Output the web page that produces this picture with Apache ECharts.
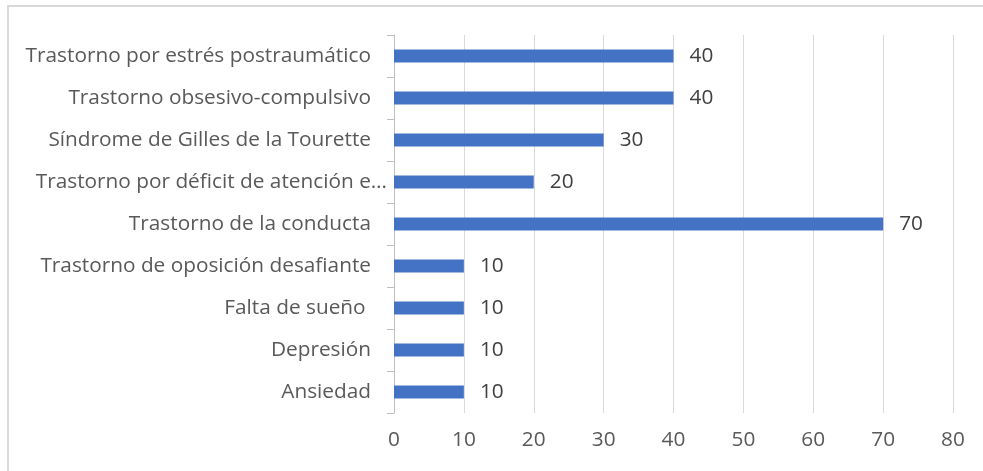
<!DOCTYPE html>
<html>
<head>
<meta charset="utf-8">
<script src="https://cdn.jsdelivr.net/npm/echarts@6/dist/echarts.min.js"></script>
<style>
html,body{margin:0;padding:0;background:#fff;}
#frame{position:absolute;left:7px;top:5px;width:1000px;height:500px;border:2px solid #d9d9d9;box-sizing:border-box;}
#chart{position:absolute;left:0;top:0;width:983px;height:471px;}
</style>
</head>
<body>
<div id="frame"></div>
<div id="chart"></div>
<script>
const categories = [
  "Ansiedad",
  "Depresión",
  "Falta de sueño ",
  "Trastorno de oposición desafiante",
  "Trastorno de la conducta",
  "Trastorno por déficit de atención e…",
  "Síndrome de Gilles de la Tourette",
  "Trastorno obsesivo-compulsivo",
  "Trastorno por estrés postraumático"
];
const values = [10, 10, 10, 10, 70, 20, 30, 40, 40];
const xTicks = [0, 10, 20, 30, 40, 50, 60, 70, 80];

const font = "'Open Sans', sans-serif";
const catData = categories.map(function (c) {
  if (c.endsWith('…')) {
    return {value: c, textStyle: {padding: [0, -16, 0, 0]}};
  }
  return c;
});
const chart = echarts.init(document.getElementById('chart'), null, {renderer: 'canvas'});
chart.setOption({
  animation: false,
  backgroundColor: 'transparent',
  grid: {left: 394, right: 30, top: 35, bottom: 58, containLabel: false},
  xAxis: {
    type: 'value',
    min: xTicks[0],
    max: xTicks[xTicks.length - 1],
    interval: 10,
    axisLine: {show: false},
    axisTick: {show: false},
    splitLine: {show: true, lineStyle: {color: '#d9d9d9', width: 1}},
    axisLabel: {color: '#595959', fontSize: 20.8, fontFamily: font, margin: 17}
  },
  yAxis: {
    type: 'category',
    data: catData,
    axisLine: {show: true, lineStyle: {color: '#bfbfbf', width: 1}},
    axisTick: {show: true, length: 7, lineStyle: {color: '#bfbfbf'}},
    axisLabel: {color: '#595959', fontSize: 20.8, fontFamily: font, margin: 23}
  },
  series: [{
    type: 'bar',
    data: values,
    barWidth: 13,
    itemStyle: {color: '#4472c4'},
    label: {show: true, position: 'right', distance: 16, color: '#404040', fontSize: 20.8, fontFamily: font}
  }]
});
</script>
</body>
</html>
